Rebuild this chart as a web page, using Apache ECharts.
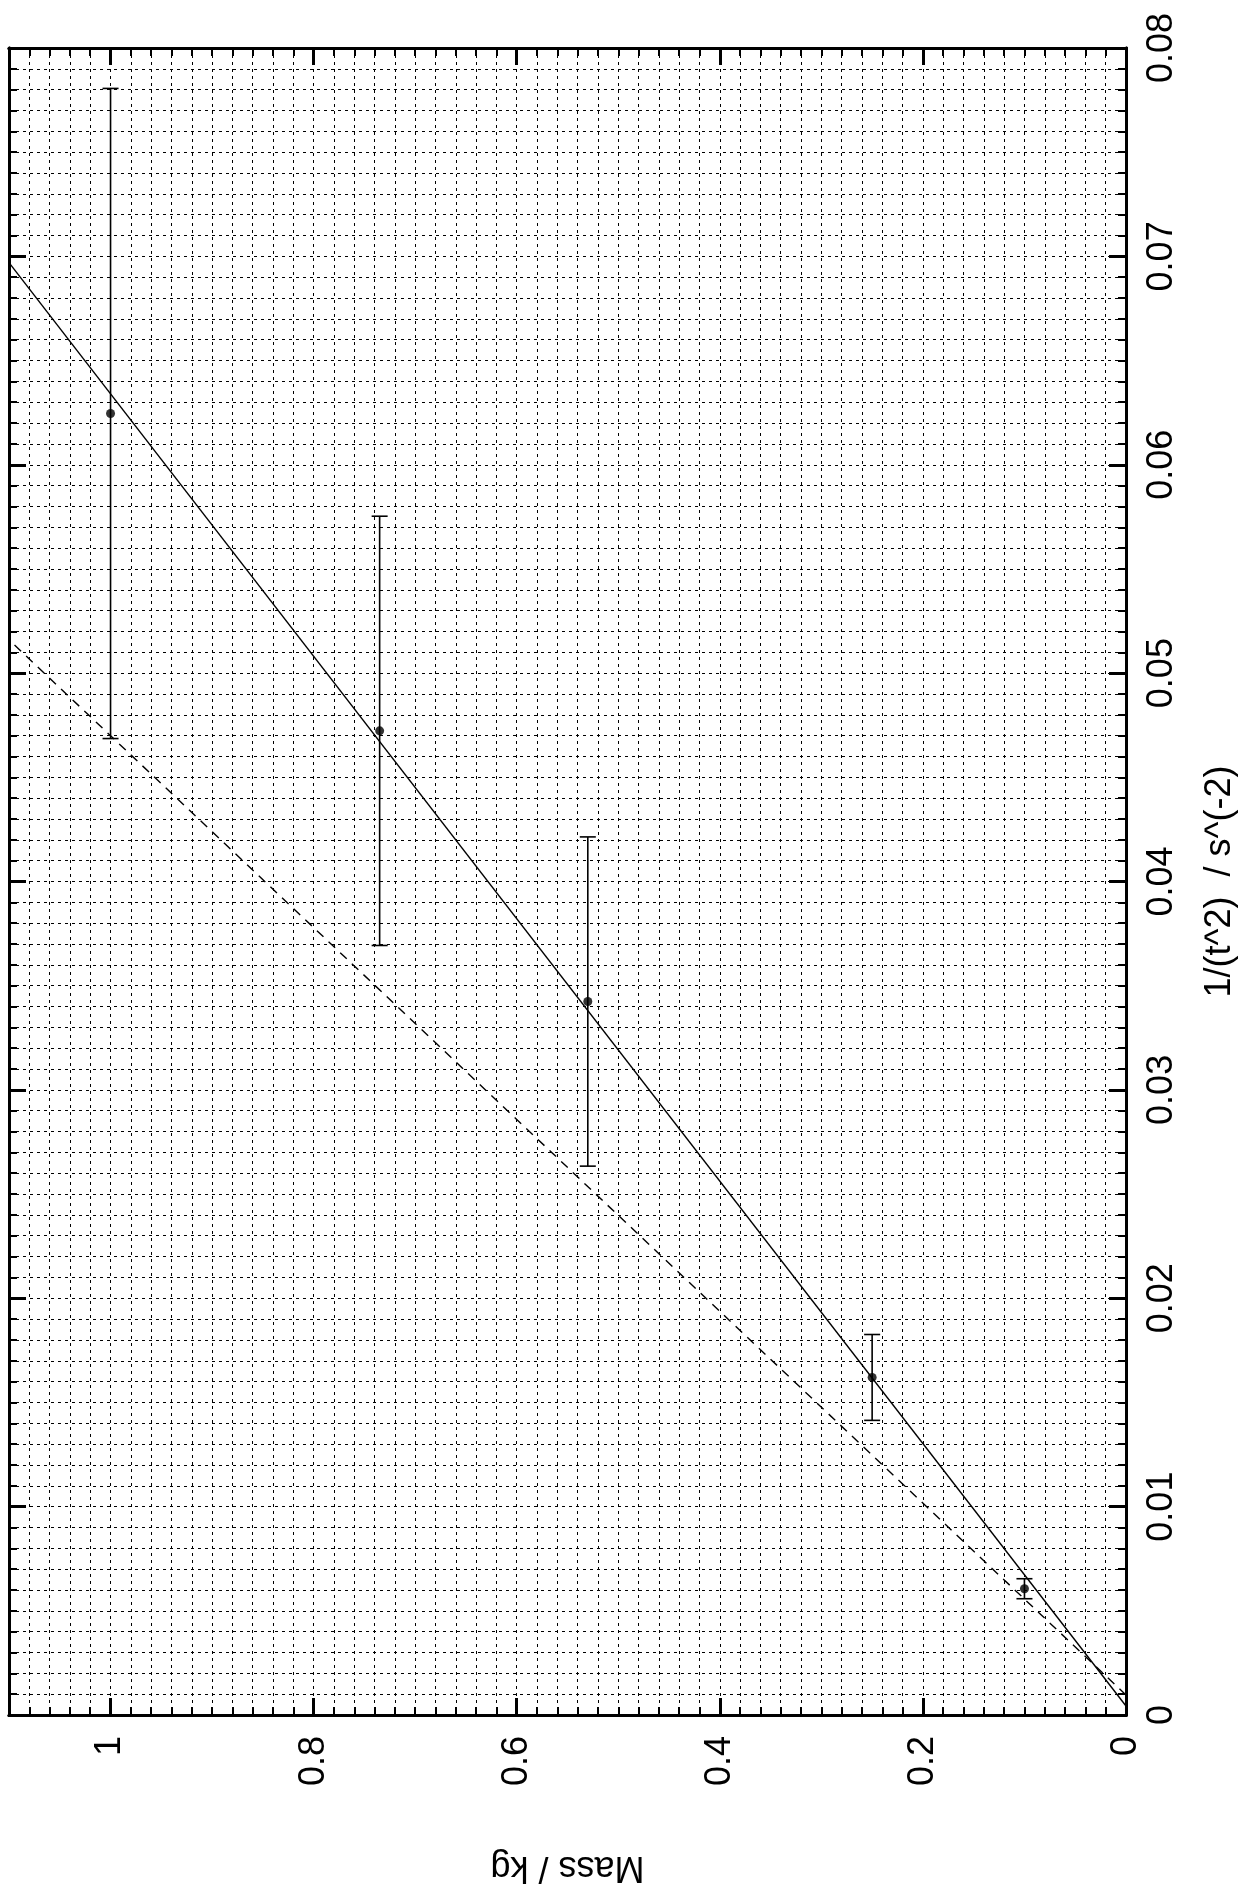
<!DOCTYPE html>
<html>
<head>
<meta charset="utf-8">
<script src="https://cdn.jsdelivr.net/npm/echarts@6.0.0/dist/echarts.min.js"></script>
<style>
  html, body { margin: 0; padding: 0; background: #fff; }
  #chart { width: 1246px; height: 1896px; }
</style>
</head>
<body>
<div id="chart"></div>
<script>
// measured points: mass (kg) vs 1/t^2 (s^-2) with error on 1/t^2
const massKg = [0.1, 0.25, 0.53, 0.735, 1.0];
const invT2 = [0.00606, 0.0162, 0.03424, 0.04723, 0.06246];
const invT2Err = [0.00048, 0.00206, 0.0079, 0.0103, 0.0156];

// fitted lines, value at mass 0 and at mass 1.1
const fitMass = [0, 1.1];
const fitSolid = [0.00043, 0.0697];
const fitDashed = [0.00096, 0.0516];

const massTicks = { min: 0, max: 1.1, major: 0.2, minor: 0.02 };
const invTicks = { min: 0, max: 0.08, major: 0.01, minor: 0.001 };

const FONT = "'Liberation Sans', Arial, sans-serif";

const chart = echarts.init(document.getElementById('chart'), null, { renderer: 'canvas' });

function axisBase(extra) {
  return Object.assign({
    type: 'value',
    gridIndex: 0,
    axisLine: { show: true, onZero: false, lineStyle: { color: '#000', width: 3 } },
    splitLine: { show: false },
    axisLabel: { show: false }
  }, extra);
}

const minorTick = { show: true, inside: true, length: 8, lineStyle: { color: '#000', width: 2 } };
const majorTick = { show: true, inside: true, length: 17, lineStyle: { color: '#000', width: 3 } };
const gridLine = { show: true, lineStyle: { color: '#000', width: 1, type: [3, 4] } };

var xAxes = ['bottom', 'top'].flatMap(function (pos) {
  return [
    axisBase({
      position: pos, inverse: true,
      min: massTicks.min, max: massTicks.max, interval: massTicks.minor,
      axisTick: minorTick,
      splitLine: pos === 'bottom' ? gridLine : { show: false }
    }),
    axisBase({
      position: pos, inverse: true,
      min: massTicks.min, max: massTicks.max, interval: massTicks.major,
      axisTick: majorTick,
      axisLabel: pos === 'bottom' ? {
        show: true, rotate: 90, margin: 21, fontSize: 36, color: '#000',
        fontFamily: FONT, showMaxLabel: false
      } : { show: false },
      name: pos === 'bottom' ? 'Mass / kg' : '',
      nameLocation: 'middle', nameRotate: 180, nameGap: 134,
      nameTextStyle: { fontSize: 36, color: '#000', fontFamily: FONT }
    })
  ];
});

var yAxes = ['right', 'left'].flatMap(function (pos) {
  return [
    axisBase({
      position: pos,
      min: invTicks.min, max: invTicks.max, interval: invTicks.minor,
      axisTick: minorTick,
      splitLine: pos === 'right' ? gridLine : { show: false }
    }),
    axisBase({
      position: pos,
      min: invTicks.min, max: invTicks.max, interval: invTicks.major,
      axisTick: majorTick,
      axisLabel: pos === 'right' ? {
        show: true, rotate: 90, margin: 18, fontSize: 36, color: '#000', fontFamily: FONT
      } : { show: false },
      name: pos === 'right' ? '1/(t^2)  / s^(-2)' : '',
      nameLocation: 'middle', nameRotate: 90, nameGap: 76,
      nameTextStyle: { fontSize: 36, color: '#000', fontFamily: FONT }
    })
  ];
});

var points = massKg.map(function (m, i) { return [m, invT2[i]]; });
var bars = massKg.map(function (m, i) { return [m, invT2[i] - invT2Err[i], invT2[i] + invT2Err[i]]; });

var option = {
  backgroundColor: '#ffffff',
  animation: false,
  grid: { left: 9, right: 117, top: 48, bottom: 181, containLabel: false },
  xAxis: xAxes,
  yAxis: yAxes,
  series: [
    {
      type: 'line',
      xAxisIndex: 0, yAxisIndex: 0,
      data: fitMass.map(function (m, i) { return [m, fitSolid[i]]; }),
      symbol: 'none',
      lineStyle: { color: '#000', width: 1.4 }
    },
    {
      type: 'line',
      xAxisIndex: 0, yAxisIndex: 0,
      data: fitMass.map(function (m, i) { return [m, fitDashed[i]]; }),
      symbol: 'none',
      lineStyle: { color: '#000', width: 1.4, type: [9, 7] }
    },
    {
      type: 'custom',
      xAxisIndex: 0, yAxisIndex: 0,
      data: bars,
      encode: { x: 0, y: [1, 2] },
      renderItem: function (params, api) {
        var m = api.value(0);
        var lo = api.coord([m, api.value(1)]);
        var hi = api.coord([m, api.value(2)]);
        var half = 8;
        var st = { stroke: '#000', lineWidth: 1.6 };
        return {
          type: 'group',
          children: [
            { type: 'line', shape: { x1: hi[0], y1: hi[1], x2: lo[0], y2: lo[1] }, style: st },
            { type: 'line', shape: { x1: hi[0] - half, y1: hi[1], x2: hi[0] + half, y2: hi[1] }, style: st },
            { type: 'line', shape: { x1: lo[0] - half, y1: lo[1], x2: lo[0] + half, y2: lo[1] }, style: st }
          ]
        };
      }
    },
    {
      type: 'scatter',
      xAxisIndex: 0, yAxisIndex: 0,
      data: points,
      symbol: 'circle',
      symbolSize: 9,
      itemStyle: { color: '#000' }
    }
  ]
};

chart.setOption(option);
</script>
</body>
</html>
